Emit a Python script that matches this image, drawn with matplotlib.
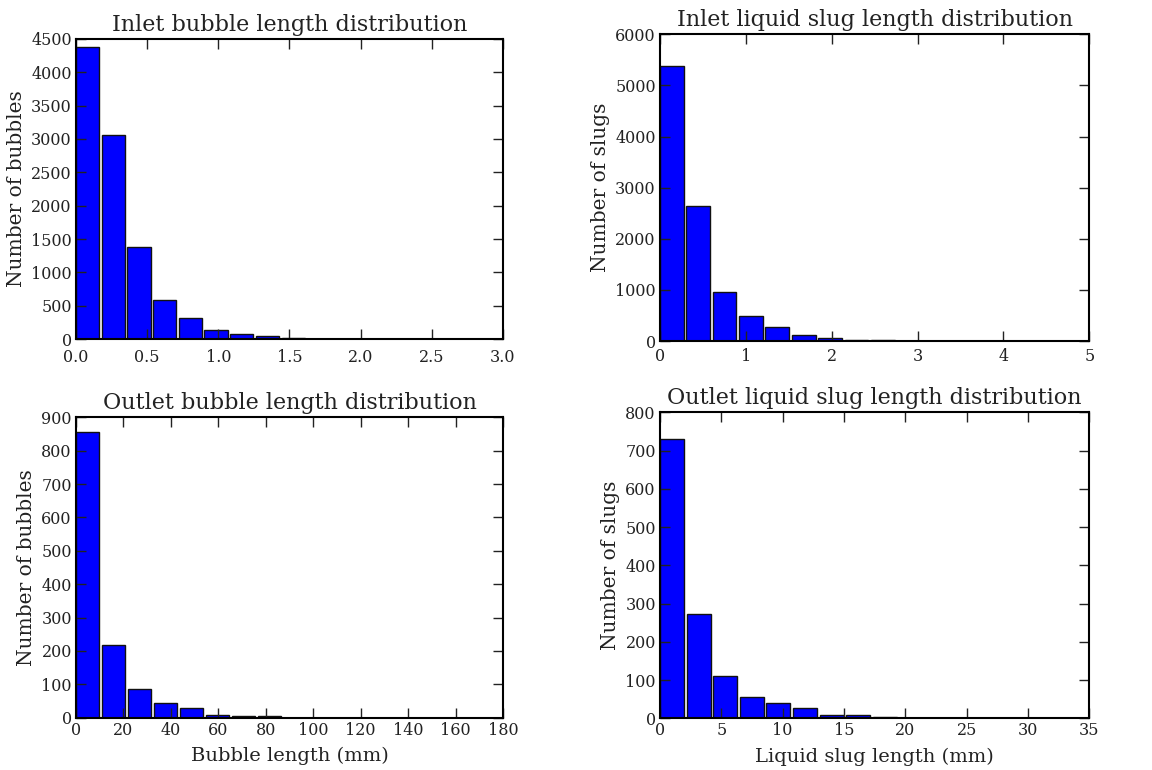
import matplotlib
matplotlib.use("Agg")
import matplotlib.pyplot as plt
import numpy as np

plt.rcParams['font.family'] = ['DejaVu Serif']
plt.rcParams['text.color'] = '#222222'
plt.rcParams['axes.labelcolor'] = '#222222'
plt.rcParams['xtick.color'] = '#222222'
plt.rcParams['ytick.color'] = '#222222'

# Inlet bubble length (units as shown)
inlet_bubble_bin = 0.1805
inlet_bubble_counts = [4380, 3060, 1375, 590, 315, 135, 80, 45, 20]

# Inlet liquid slug length
inlet_slug_bin = 0.307
inlet_slug_counts = [5380, 2635, 960, 485, 280, 110, 65, 20, 15]

# Outlet bubble length (mm)
outlet_bubble_bin = 10.95
outlet_bubble_counts = [855, 217, 86, 45, 29, 9, 6, 6]

# Outlet liquid slug length (mm)
outlet_slug_bin = 2.17
outlet_slug_counts = [729, 274, 110, 57, 40, 26, 10, 10, 3, 2]

panels = [
    dict(rect=[0.066, 0.5597, 0.3706, 0.3897], bw=inlet_bubble_bin, counts=inlet_bubble_counts,
         title="Inlet bubble length distribution", ylabel="Number of bubbles", xlabel=None,
         xlim=(0, 3.0), ylim=(0, 4500), xticks=np.arange(0, 3.01, 0.5), yticks=np.arange(0, 4501, 500),
         xfmt="{:.1f}", xpad=7),
    dict(rect=[0.5729, 0.5571, 0.3727, 0.3984], bw=inlet_slug_bin, counts=inlet_slug_counts,
         title="Inlet liquid slug length distribution", ylabel="Number of slugs", xlabel=None,
         xlim=(0, 5), ylim=(0, 6000), xticks=np.arange(0, 6, 1), yticks=np.arange(0, 6001, 1000),
         xfmt="{:.0f}", xpad=5),
    dict(rect=[0.066, 0.0679, 0.3706, 0.3901], bw=outlet_bubble_bin, counts=outlet_bubble_counts,
         title="Outlet bubble length distribution", ylabel="Number of bubbles", xlabel="Bubble length (mm)",
         xlim=(0, 180), ylim=(0, 900), xticks=np.arange(0, 181, 20), yticks=np.arange(0, 901, 100),
         xfmt="{:.0f}", xpad=3),
    dict(rect=[0.5729, 0.0671, 0.3727, 0.3974], bw=outlet_slug_bin, counts=outlet_slug_counts,
         title="Outlet liquid slug length distribution", ylabel="Number of slugs", xlabel="Liquid slug length (mm)",
         xlim=(0, 35), ylim=(0, 800), xticks=np.arange(0, 36, 5), yticks=np.arange(0, 801, 100),
         xfmt="{:.0f}", xpad=3),
]

fig = plt.figure(figsize=(11.52, 7.70), dpi=100)
for p in panels:
    ax = fig.add_axes(p['rect'])
    counts = np.array(p['counts'])
    lefts = np.arange(len(counts)) * p['bw']
    ax.bar(lefts, counts, width=p['bw'] * 0.9, align='edge', color='#0000ff',
           edgecolor='#111111', linewidth=1.0)
    ax.set_xlim(*p['xlim'])
    ax.set_ylim(*p['ylim'])
    ax.set_xticks(p['xticks'])
    ax.set_xticklabels([p['xfmt'].format(v) for v in p['xticks']])
    ax.set_yticks(p['yticks'])
    ax.tick_params(direction='in', top=True, right=True, length=7, width=1, labelsize=11.5)
    ax.tick_params(axis='x', pad=p['xpad'])
    ax.tick_params(axis='y', pad=3)
    for s in ax.spines.values():
        s.set_linewidth(1.5)
    ax.set_title(p['title'], fontsize=16, pad=6)
    ax.set_ylabel(p['ylabel'], fontsize=14.5, labelpad=4)
    if p['xlabel']:
        ax.set_xlabel(p['xlabel'], fontsize=14, labelpad=6)

fig.savefig("out.png", dpi=100, facecolor='white')
